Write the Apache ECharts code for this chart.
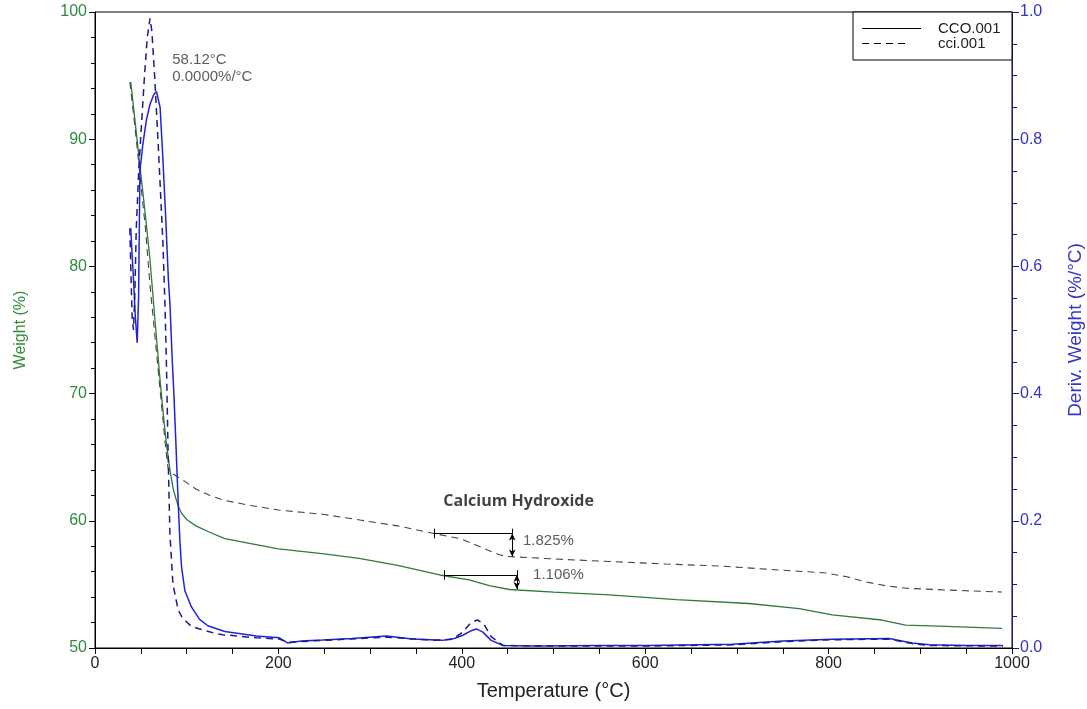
<!DOCTYPE html>
<html>
<head>
<meta charset="utf-8">
<script src="https://cdn.jsdelivr.net/npm/echarts@6/dist/echarts.min.js"></script>
<style>html,body{margin:0;padding:0;background:#fff}#c{width:1087px;height:709px}</style>
</head>
<body>
<div id="c"></div>
<script>
// ---- Data ----
const xTicks = [0, 200, 400, 600, 800, 1000];
const weightTicks = [50, 60, 70, 80, 90, 100];
const derivTicks = [0.0, 0.2, 0.4, 0.6, 0.8, 1.0];
const legendNames = ['CCO.001', 'cci.001'];

// CCO.001 weight (%) vs temperature (°C)
const ccoWeight = [[39,94.5],[41,93.2],[44,91.2],[47,89.2],[51,86.6],[55,84],[60,80.5],[64,77],[67.5,74],[71,71],[75,68],[78,66],[81.7,64],[85,62.6],[88,61.8],[91,61.1],[94.4,60.6],[100,60.1],[110,59.6],[125,59.1],[141.6,58.6],[170,58.2],[200,57.8],[250,57.4],[288,57.05],[330,56.5],[376,55.74],[408,55.35],[430,54.9],[452,54.6],[500,54.4],[561,54.17],[634,53.8],[713,53.5],[768,53.1],[804,52.6],[858,52.2],[884,51.8],[928,51.7],[989,51.55]];
// cci.001 weight (%)
const cciWeight = [[38,94.5],[41,92.6],[45,90],[50,86.5],[55,83],[60,78.5],[65,74.8],[70,71],[73,68.8],[76,66.5],[79.5,64.2],[83,63.8],[89,63.5],[100,63],[110,62.5],[125,62],[141.6,61.6],[170,61.2],[200,60.85],[250,60.5],[289,60.06],[330,59.6],[370,59.0],[398,58.6],[412,58.2],[425,57.8],[440,57.35],[448.5,57.2],[500,57.0],[561,56.8],[623,56.6],[680,56.45],[732,56.2],[797,55.9],[820,55.6],[840,55.2],[862,54.9],[884,54.7],[928,54.56],[989,54.4]];
// CCO.001 derivative weight (%/°C)
const ccoDeriv = [[39,0.66],[40,0.63],[42,0.58],[44,0.52],[46,0.48],[47.5,0.55],[49,0.75],[52,0.79],[56,0.83],[60,0.855],[64,0.87],[67,0.875],[69,0.873],[71,0.85],[74,0.77],[77,0.68],[80,0.58],[81.7,0.542],[84,0.46],[86,0.4],[88,0.33],[90.6,0.233],[92.5,0.17],[94.4,0.127],[98,0.09],[105,0.065],[114,0.045],[123,0.035],[141.6,0.026],[176,0.019],[201,0.016],[210,0.008],[225,0.011],[248,0.0126],[280,0.015],[318,0.019],[346,0.014],[379,0.012],[392,0.015],[401,0.02],[410,0.027],[416,0.03],[423,0.025],[432,0.012],[445,0.004],[480,0.003],[550,0.004],[600,0.004],[695,0.006],[750,0.011],[804,0.0137],[866,0.015],[891,0.008],[910,0.005],[950,0.004],[990,0.004]];
// cci.001 derivative weight (%/°C)
const cciDeriv = [[38,0.66],[39,0.6],[40.5,0.52],[42,0.5],[43.5,0.56],[45,0.66],[48,0.76],[51,0.83],[54,0.9],[57,0.96],[60,0.99],[62,0.97],[65,0.9],[69,0.79],[72,0.7],[74,0.64],[76.5,0.53],[78,0.44],[80,0.285],[81.7,0.18],[85,0.1],[90.7,0.06],[95,0.048],[105,0.034],[114,0.03],[131,0.023],[139,0.021],[176,0.016],[201,0.014],[210,0.009],[248,0.012],[318,0.017],[372,0.012],[390,0.014],[401,0.025],[410,0.04],[417,0.044],[424,0.038],[432,0.018],[445,0.004],[500,0.003],[600,0.003],[695,0.005],[750,0.01],[804,0.013],[866,0.014],[891,0.007],[910,0.004],[990,0.003]];

// Step annotations: [startT, endT, upperWeight, lowerWeight, label]
const stepCci = [370, 455, 59.0, 57.2, '1.825%'];
const stepCco = [381, 460, 55.74, 54.63, '1.106%'];
// Label anchors [T, weight]
const stepCciLabelPos = [464.5, 58.45];
const stepCcoLabelPos = [475.5, 55.74];
// Peak annotation
const peakTemp = 58.12;
const peakText = ['58.12°C', '0.0000%/°C'];
const peakTextPos = [82, 95.56];
const titleText = 'Calcium Hydroxide';
const titlePos = [462, 61.55];

// ---- Chart ----
const chart = echarts.init(document.getElementById('c'), null, {renderer: 'canvas'});
const FONT = 'Liberation Sans, Arial, sans-serif';
const GREEN = '#2e8b3a';
const BLUE = '#3434c8';

function stepLines(s) {
  const [t0, t1, wTop, wBot] = s;
  const tk = 0.38;
  return [
    [{coord: [t0, wTop]}, {coord: [t1, wTop]}],
    [{coord: [t0, wTop + tk]}, {coord: [t0, wTop - tk]}],
    [{coord: [t1, wTop + tk]}, {coord: [t1, wTop]}],
    [{coord: [t1, wTop], symbol: 'arrow'}, {coord: [t1, wBot], symbol: 'arrow'}]
  ];
}

// legend box (drawn as graphic; box placement in pixels)
const LB = {x: 853, y: 12, w: 159, h: 48};
const legendGraphic = [
  {type: 'rect', shape: {x: LB.x, y: LB.y, width: LB.w, height: LB.h}, style: {fill: '#fff', stroke: '#000', lineWidth: 1}, z: 100},
  {type: 'line', shape: {x1: 862, y1: 28.5, x2: 921, y2: 28.5}, style: {stroke: '#000', lineWidth: 1}, z: 101},
  {type: 'line', shape: {x1: 862, y1: 43.5, x2: 909, y2: 43.5}, style: {stroke: '#000', lineWidth: 1, lineDash: [7, 5]}, z: 101},
  {type: 'text', x: 938, y: 28.5, style: {text: legendNames[0], font: '15px Liberation Sans, Arial, sans-serif', fill: '#222', textVerticalAlign: 'middle', verticalAlign: 'middle'}, z: 101},
  {type: 'text', x: 938, y: 43.5, style: {text: legendNames[1], font: '15px Liberation Sans, Arial, sans-serif', fill: '#222', textVerticalAlign: 'middle', verticalAlign: 'middle'}, z: 101}
];

const option = {
  animation: false,
  backgroundColor: '#fff',
  grid: {left: 95, right: 75, top: 12, bottom: 61, containLabel: false, outerBoundsMode: 'none', show: true, borderColor: '#000', borderWidth: 1, backgroundColor: 'transparent'},
  graphic: legendGraphic,
  xAxis: {
    type: 'value', min: xTicks[0], max: xTicks[xTicks.length - 1], interval: 200,
    name: 'Temperature (°C)', nameLocation: 'middle', nameGap: 33,
    nameTextStyle: {fontFamily: FONT, fontSize: 20, color: '#222'},
    axisLine: {show: true, lineStyle: {color: '#000', width: 1}},
    axisTick: {show: true, length: 6, lineStyle: {color: '#000'}},
    minorTick: {show: true, splitNumber: 4, length: 6, lineStyle: {color: '#000'}},
    splitLine: {show: false},
    axisLabel: {fontFamily: FONT, fontSize: 16, color: '#222', margin: 8, formatter: v => String(v)}
  },
  yAxis: [
    {
      type: 'value', min: weightTicks[0], max: weightTicks[weightTicks.length - 1], interval: 10,
      name: 'Weight (%)', nameLocation: 'middle', nameGap: 66,
      nameTextStyle: {fontFamily: FONT, fontSize: 16, color: GREEN},
      axisLine: {show: true, lineStyle: {color: '#000', width: 1}},
      axisTick: {show: true, length: 6, lineStyle: {color: '#000'}},
      minorTick: {show: true, splitNumber: 5, length: 4, lineStyle: {color: '#000'}},
      splitLine: {show: false},
      axisLabel: {fontFamily: FONT, fontSize: 16, color: GREEN, margin: 8, formatter: v => String(v)}
    },
    {
      type: 'value', min: derivTicks[0], max: derivTicks[derivTicks.length - 1], interval: 0.2,
      position: 'right',
      name: 'Deriv. Weight (%/°C)', nameLocation: 'middle', nameGap: 54, nameRotate: 90,
      nameTextStyle: {fontFamily: FONT, fontSize: 19, color: BLUE},
      axisLine: {show: true, lineStyle: {color: '#1c1c70', width: 1}},
      axisTick: {show: true, length: 7, lineStyle: {color: '#1c1c70'}},
      minorTick: {show: true, splitNumber: 4, length: 5, lineStyle: {color: '#1c1c70'}},
      splitLine: {show: false},
      axisLabel: {fontFamily: FONT, fontSize: 16, color: BLUE, margin: 8, formatter: v => v.toFixed(1)}
    }
  ],
  series: [
    {
      name: 'CCO.001', type: 'line', yAxisIndex: 0, data: ccoWeight, showSymbol: false, symbol: 'none',
      lineStyle: {color: '#2f7a3a', width: 1.3}, itemStyle: {color: '#2f7a3a'}, z: 3,
      markLine: {
        silent: true, symbol: 'none', symbolSize: [5, 7], animation: false,
        label: {show: false},
        lineStyle: {color: '#000', width: 1, type: 'solid'},
        data: stepLines(stepCci).concat(stepLines(stepCco)).concat([
          [{coord: [peakTemp, 50.75]}, {coord: [peakTemp, 49.45]}]
        ])
      }
    },
    {
      name: 'cci.001', type: 'line', yAxisIndex: 0, data: cciWeight, showSymbol: false, symbol: 'none',
      lineStyle: {color: '#444', width: 1.1, type: [7, 5]}, itemStyle: {color: '#444'}, z: 3
    },
    {
      name: 'CCO.001 deriv', type: 'line', yAxisIndex: 1, data: ccoDeriv, showSymbol: false, symbol: 'none',
      lineStyle: {color: '#2222dd', width: 1.5}, z: 4
    },
    {
      name: 'cci.001 deriv', type: 'line', yAxisIndex: 1, data: cciDeriv, showSymbol: false, symbol: 'none',
      lineStyle: {color: '#1c1c8c', width: 1.5, type: [7, 5]}, z: 4
    },
    {
      name: 'labels', type: 'scatter', yAxisIndex: 0, symbolSize: 0, silent: true, z: 6,
      data: [
        {value: stepCciLabelPos, text: stepCci[4]},
        {value: stepCcoLabelPos, text: stepCco[4]},
        {value: peakTextPos, text: peakText.join('\n')}
      ],
      label: {
        show: true, position: 'right', distance: 2, fontFamily: FONT, fontSize: 15, color: '#333',
        lineHeight: 17.5, formatter: p => p.data.text
      }
    },
    {
      name: 'title', type: 'scatter', yAxisIndex: 0, symbolSize: 0, silent: true, z: 6,
      data: [{value: titlePos, text: titleText}],
      label: {
        show: true, position: 'inside', fontFamily: 'Open Sans, sans-serif', fontWeight: 'bold', fontSize: 16,
        color: '#111', formatter: p => p.data.text
      }
    }
  ]
};
chart.setOption(option);
</script>
</body>
</html>
